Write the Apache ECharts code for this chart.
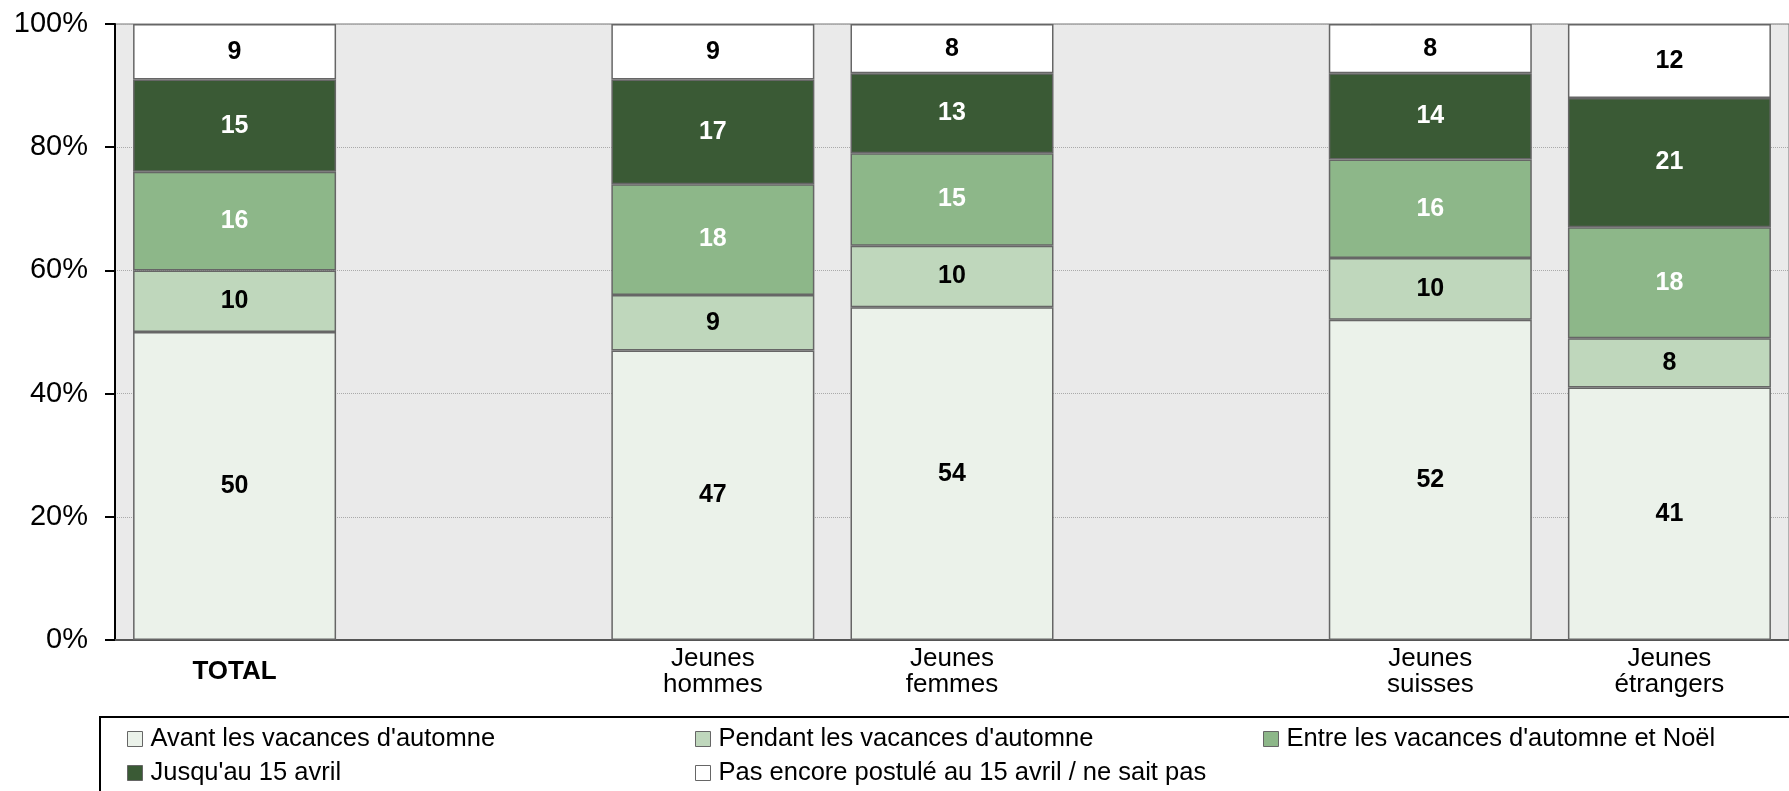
<!DOCTYPE html>
<html>
<head>
<meta charset="utf-8">
<script src="https://cdn.jsdelivr.net/npm/echarts@6/dist/echarts.min.js"></script>
<style>
html, body { margin: 0; padding: 0; background: #fff; }
#chart { width: 1789px; height: 791px; }
</style>
</head>
<body>
<div id="chart"></div>
<script>
// categories (blank slots keep the gaps between groups)
var categories = ['TOTAL', ' ', 'Jeunes\nhommes', 'Jeunes\nfemmes', '  ', 'Jeunes\nsuisses', 'Jeunes\nétrangers'];
var seriesNames = [
    "Avant les vacances d'automne",
    "Pendant les vacances d'automne",
    "Entre les vacances d'automne et Noël",
    "Jusqu'au 15 avril",
    "Pas encore postulé au 15 avril / ne sait pas"
];
var avant    = [50, null, 47, 54, null, 52, 41];
var pendant  = [10, null,  9, 10, null, 10,  8];
var entre    = [16, null, 18, 15, null, 16, 18];
var jusquau  = [15, null, 17, 13, null, 14, 21];
var pasEncore = [9, null,  9,  8, null,  8, 12];
var yTicks = [0, 20, 40, 60, 80, 100];

var colors = ['#ebf2ea', '#bfd7bc', '#8db789', '#3a5a35', '#ffffff'];
var labelColors = ['#000', '#000', '#fff', '#fff', '#000'];
var values = [avant, pendant, entre, jusquau, pasEncore];
var font = '"Liberation Sans", Arial, sans-serif';

var chart = echarts.init(document.getElementById('chart'));

var series = values.map(function (vals, i) {
    return {
        name: seriesNames[i],
        type: 'bar',
        stack: 'all',
        barWidth: 203,
        data: vals,
        itemStyle: { color: colors[i], borderColor: '#666', borderWidth: 1.5 },
        label: {
            show: true,
            position: 'inside',
            color: labelColors[i],
            fontFamily: font,
            fontWeight: 'bold',
            fontSize: 25
        },
        emphasis: { disabled: true }
    };
});

// legend laid out as a 3-column grid, one legend per entry
var legendPos = [
    [127, 726], [695, 726], [1263, 726],
    [127, 760], [695, 760]
];
var legends = seriesNames.map(function (name, k) {
    return {
        data: [name],
        left: legendPos[k][0],
        top: legendPos[k][1],
        padding: 0,
        itemWidth: 15,
        itemHeight: 15,
        icon: 'rect',
        selectedMode: false,
        itemStyle: { borderColor: '#666', borderWidth: 1 },
        textStyle: { fontFamily: font, fontSize: 25.5, color: '#000', padding: [0, 0, 0, 3] }
    };
});

chart.setOption({
    animation: false,
    grid: {
        left: 115, top: 24, width: 1691, height: 616,
        show: true, backgroundColor: '#eaeaea', borderColor: '#777', borderWidth: 1
    },
    legend: legends,
    graphic: [{
        type: 'rect',
        shape: { x: 100, y: 717, width: 1720, height: 120 },
        style: { fill: 'none', stroke: '#000', lineWidth: 2 },
        silent: true
    }],
    xAxis: {
        type: 'category',
        data: categories,
        axisLine: { lineStyle: { color: '#555', width: 2 } },
        axisTick: { show: false },
        axisLabel: {
            interval: 0,
            color: '#000',
            fontFamily: font,
            fontSize: 26,
            lineHeight: 26,
            verticalAlign: 'middle',
            margin: 32,
            formatter: function (v) {
                return v === 'TOTAL' ? '{b|TOTAL}' : v;
            },
            rich: { b: { fontWeight: 'bold', fontSize: 26, fontFamily: font, color: '#000' } }
        }
    },
    yAxis: {
        type: 'value',
        min: yTicks[0],
        max: yTicks[yTicks.length - 1],
        interval: 20,
        axisLine: { show: true, lineStyle: { color: '#000', width: 2 } },
        axisTick: { show: true, length: 10, lineStyle: { color: '#000', width: 2 } },
        axisLabel: { formatter: '{value}%', color: '#000', fontFamily: font, fontSize: 29, margin: 27 },
        splitLine: { lineStyle: { color: '#aaa', type: 'dotted' } }
    },
    series: series
});
</script>
</body>
</html>
